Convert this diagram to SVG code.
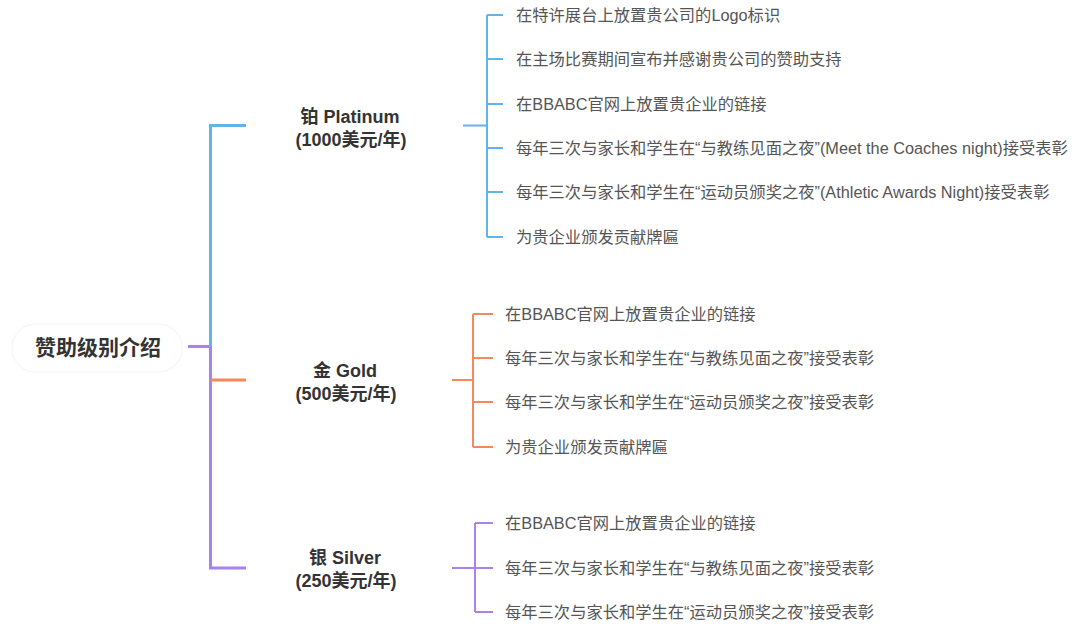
<svg xmlns="http://www.w3.org/2000/svg" width="1080" height="628" viewBox="0 0 1080 628">
<style>
text{font-family:"Liberation Sans","Noto Sans CJK SC",sans-serif;}
.root{font-size:21px;font-weight:bold;fill:#333;}
.mid{font-size:18px;font-weight:bold;fill:#333;text-anchor:middle;}
.leaf{font-size:16.3px;fill:#555;}
.b{stroke:#62b2ec;fill:none;}
.o{stroke:#f5895a;fill:none;}
.p{stroke:#a683ee;fill:none;}
.t{stroke-width:3;}
.l{stroke-width:2;}
</style>
<rect width="1080" height="628" fill="#fff"/>
<g id="connectors">
<path class="p t" d="M188 346.5H210.5V568H246"/>
<path class="b t" d="M210.5 346.5V125.5H246"/>
<path class="o t" d="M210.5 380H246"/>
<path class="b l" d="M463 125.5H487"/>
<path class="b l" d="M487 15V237M487 15H503M487 59H503M487 104H503M487 148H503M487 192H503M487 237H503"/>
<path class="o l" d="M452 380H473"/>
<path class="o l" d="M473 314V447M473 314H493M473 358H493M473 402H493M473 447H493"/>
<path class="p l" d="M452 568H475"/>
<path class="p l" d="M475 523V612M475 523H493M475 568H493M475 612H493"/>
</g>
<g id="root"><rect x="12" y="324" width="170" height="48" rx="24" fill="#fff" stroke="#f7f7f7" stroke-width="1.5"/><text class="root" x="35" y="355">赞助级别介绍</text></g>
<g id="platinum"><text class="mid" x="350" y="123">铂 Platinum</text><text class="mid" x="351" y="146">(1000美元/年)</text></g>
<g id="gold"><text class="mid" x="345" y="377">金 Gold</text><text class="mid" x="346" y="400">(500美元/年)</text></g>
<g id="silver"><text class="mid" x="345" y="564">银 Silver</text><text class="mid" x="346" y="587">(250美元/年)</text></g>
<g id="p1"><text class="leaf" x="516" y="21">在特许展台上放置贵公司的Logo标识</text></g>
<g id="p2"><text class="leaf" x="516" y="65">在主场比赛期间宣布并感谢贵公司的赞助支持</text></g>
<g id="p3"><text class="leaf" x="516" y="110">在BBABC官网上放置贵企业的链接</text></g>
<g id="p4"><text class="leaf" x="516" y="154">每年三次与家长和学生在“与教练见面之夜”(Meet the Coaches night)接受表彰</text></g>
<g id="p5"><text class="leaf" x="516" y="198">每年三次与家长和学生在“运动员颁奖之夜”(Athletic Awards Night)接受表彰</text></g>
<g id="p6"><text class="leaf" x="516" y="243">为贵企业颁发贡献牌匾</text></g>
<g id="g1"><text class="leaf" x="505" y="320">在BBABC官网上放置贵企业的链接</text></g>
<g id="g2"><text class="leaf" x="505" y="364">每年三次与家长和学生在“与教练见面之夜”接受表彰</text></g>
<g id="g3"><text class="leaf" x="505" y="408">每年三次与家长和学生在“运动员颁奖之夜”接受表彰</text></g>
<g id="g4"><text class="leaf" x="505" y="453">为贵企业颁发贡献牌匾</text></g>
<g id="s1"><text class="leaf" x="505" y="529">在BBABC官网上放置贵企业的链接</text></g>
<g id="s2"><text class="leaf" x="505" y="574">每年三次与家长和学生在“与教练见面之夜”接受表彰</text></g>
<g id="s3"><text class="leaf" x="505" y="618">每年三次与家长和学生在“运动员颁奖之夜”接受表彰</text></g>
</svg>
